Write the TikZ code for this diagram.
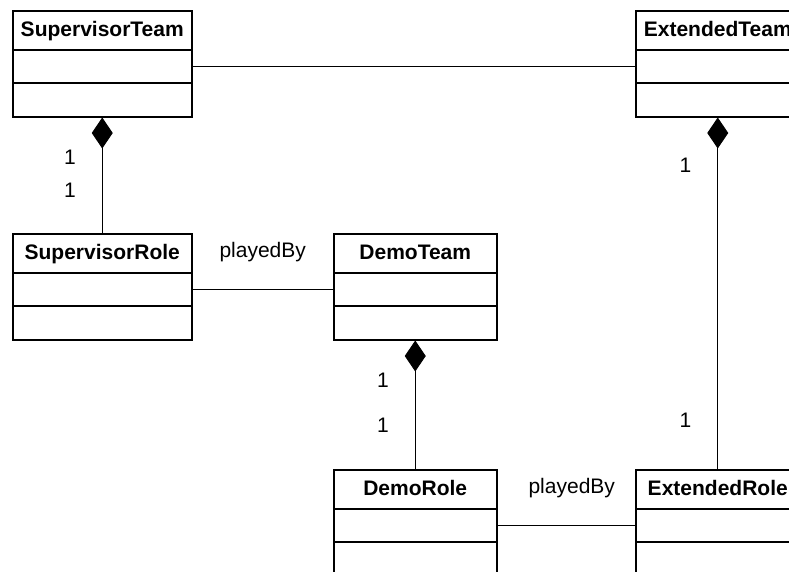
\documentclass[tikz,border=0pt]{standalone}
\usepackage{fontspec}
\setmainfont{Liberation Sans}
\usetikzlibrary{positioning,arrows.meta}

\begin{document}
\begin{tikzpicture}[
		x=1pt,y=-1pt,
		classhead/.style={draw,line width=1.5pt,inner sep=0pt,minimum height=39pt,
			font=\fontsize{21}{25}\selectfont\bfseries,text height=15.5pt,text depth=3.5pt,anchor=north west},
		classpart/.style={draw,line width=1.5pt,inner sep=0pt,anchor=north west},
		assoc/.style={line width=0.9pt},
		compos/.style={line width=0.9pt,{Diamond[length=31pt,width=21pt]}-},
		mult/.style={left=26pt,inner sep=0pt,font=\fontsize{21}{25}\selectfont},
		rolename/.style={above=27pt,inner sep=0pt,font=\fontsize{21}{25}\selectfont},
		pics/umlclass/.style n args={2}{code={
			\node[classhead,minimum width=#2] (-head) at (0,0) {#1};
			\node[classpart,minimum width=#2,minimum height=33pt] (-attr) at (0,39) {};
			\node[classpart,minimum width=#2,minimum height=34pt] (-ops) at (0,72) {};
		}}
	]
	\useasboundingbox (0,0) rectangle (789,571);
	\begin{scope}
		\clip (0,0) rectangle (789,571);
		\pic (st) at (12,10)   {umlclass={SupervisorTeam}{179pt}};
		\pic (et) at (635,10)  {umlclass={ExtendedTeam}{164pt}};
		\pic (sr) at (12,233)  {umlclass={SupervisorRole}{179pt}};
		\pic (dt) at (333,233) {umlclass={DemoTeam}{163pt}};
		\pic (dr) at (333,469) {umlclass={DemoRole}{163pt}};
		\pic (er) at (635,469) {umlclass={ExtendedRole}{164pt}};
		%
		\draw[assoc] (st-attr.east) -- (et-attr.west);
		\draw[assoc] (sr-attr.east) -- (dt-attr.west) node[midway,rolename] (pb1) {playedBy};
		\draw[assoc] (dr-attr.east) -- (er-attr.west) node[pos=.54,rolename] (pb2) {playedBy};
		% compositions
		\draw[compos] (st-ops.south) -- (sr-head.north)
			node[pos=.342,mult] (st1) {1} node[pos=.633,mult] (sr1) {1};
		\draw[compos] (et-ops.south) -- (er-head.north)
			node[pos=.136,mult] (et1) {1} node[pos=.861,mult] (er1) {1};
		\draw[compos] (dt-ops.south) -- (dr-head.north)
			node[pos=.313,mult] (dt1) {1} node[pos=.656,mult] (dr1) {1};
	\end{scope}
\end{tikzpicture}
\end{document}
